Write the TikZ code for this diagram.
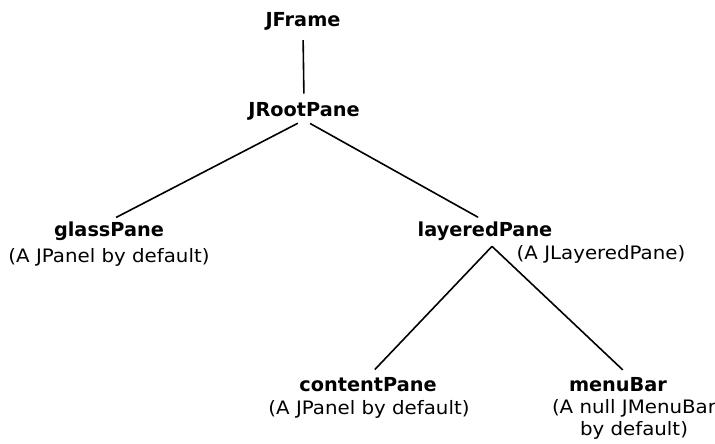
\documentclass[tikz,border=0pt]{standalone}
\usepackage{fontspec}
\newfontfamily\regf{DejaVu Sans}[FakeStretch=1.07]
\newfontfamily\boldf{DejaVu Sans Bold}
\begin{document}
\begin{tikzpicture}[x=1pt,y=-1pt,
  lbl/.style={font=\boldf\fontsize{19.3}{22}\selectfont, inner sep=0pt, anchor=base},
  sub/.style={font=\regf\fontsize{18.5}{22}\selectfont, inner sep=0pt, align=center, anchor=base},
  conn/.style={line width=1.6pt}]
\useasboundingbox (0,0) rectangle (715,444);
\node[lbl] (jframe) at (303,27) {JFrame};
\node[lbl] (root) at (304,116) {JRootPane};
\node[lbl] (glass) at (109,236) {glassPane};
\node[sub] (glasssub) at (109,262) {(A JPanel by default)};
\node[lbl] (layered) at (485,236) {layeredPane};
\node[sub] (layeredsub) at (601,259) {(A JLayeredPane)};
\node[lbl] (content) at (368,391) {contentPane};
\node[sub] (contentsub) at (369,414) {(A JPanel by default)};
\node[lbl] (menu) at (618,391) {menuBar};
\node[sub, anchor=center] (menusub) at (634,419) {(A null JMenuBar\\by default)};
\coordinate (apex) at ([xshift=7pt,yshift=-6pt]layered.south);
\draw[conn, shorten <=9pt, shorten >=8pt] (jframe.south) -- (root.north);
\draw[conn, shorten <=7pt, shorten >=8pt] (root.south) -- (glass.north);
\draw[conn, shorten <=7pt, shorten >=8pt] (root.south) -- (layered.north);
\draw[conn, shorten >=10pt] (apex) -- (content.north);
\draw[conn, shorten >=10pt] (apex) -- ([xshift=12pt]menu.north);
\end{tikzpicture}
\end{document}
